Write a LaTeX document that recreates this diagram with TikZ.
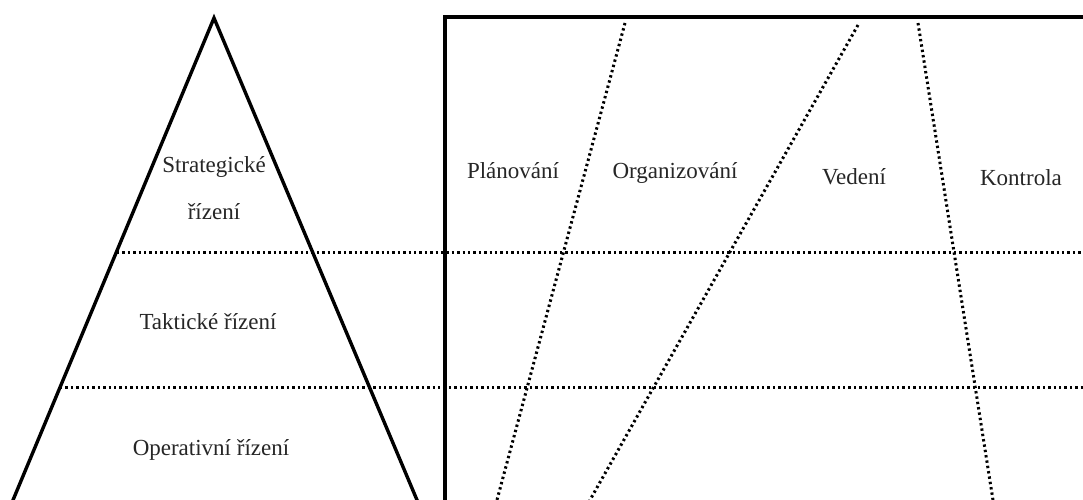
\documentclass[tikz,border=0pt]{standalone}
\usepackage{fontspec}
\setmainfont{Liberation Serif}
\begin{document}
\begin{tikzpicture}[x=1pt,y=-1pt,
  solidline/.style={line width=3.4pt, black},
  dotline/.style={line width=3pt, black, dash pattern=on 2.4pt off 3pt},
  lbl/.style={font=\fontsize{23}{36}\selectfont, text=black!85, inner sep=0pt, align=center}]
\useasboundingbox (0,0) rectangle (1083,500);
\clip (0,0) rectangle (1083,500);
\fill[white] (0,0) rectangle (1083,500);
% coordinates
\coordinate (apex) at (214,18);
\coordinate (bl) at (4.7,520);
\coordinate (br) at (425.4,520);
\coordinate (h1a) at (117,252);
\coordinate (h1b) at (1090,252);
\coordinate (h2a) at (60,387);
\coordinate (h2b) at (1090,387);
\coordinate (d1a) at (625,23);
\coordinate (d1b) at (491.6,520);
\coordinate (d2a) at (858,25);
\coordinate (d2b) at (578.7,520);
\coordinate (d3a) at (918,23);
\coordinate (d3b) at (996.1,520);
% dotted lines
\draw[dotline] (h1a) -- (h1b);
\draw[dotline] (h2a) -- (h2b);
\draw[dotline] (d1a) -- (d1b);
\draw[dotline] (d2a) -- (d2b);
\draw[dotline] (d3a) -- (d3b);
% pyramid
\draw[solidline, line join=miter] (bl) -- (apex) -- (br);
% box
\draw[solidline] (1100,17) -- (445,17) -- (445,520);
% labels
\node[lbl] (strat) at (214,167) {Strategické};
\node[lbl] (strat2) at (214,212) {řízení};
\node[lbl] (takt) at (208,322) {Taktické řízení};
\node[lbl] (oper) at (211,450) {Operativní řízení};
\node[lbl] (plan) at (513,171) {Plánování};
\node[lbl] (org) at (675,173) {Organizování};
\node[lbl] (ved) at (854,177) {Vedení};
\node[lbl] (kon) at (1021,178) {Kontrola};
\end{tikzpicture}
\end{document}
